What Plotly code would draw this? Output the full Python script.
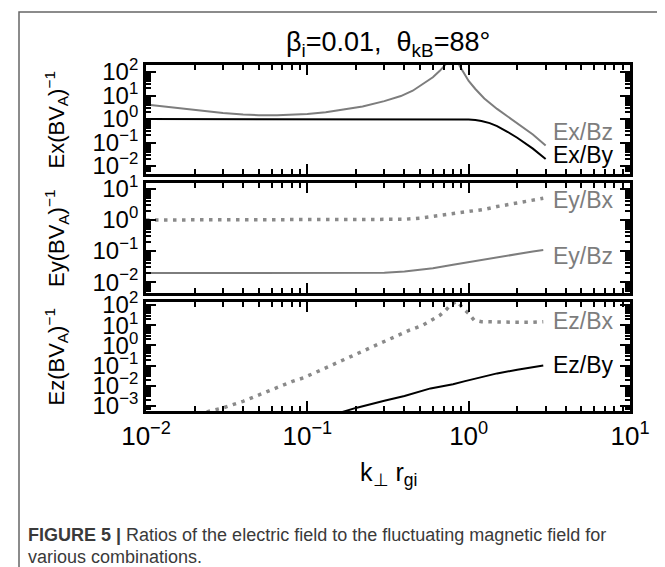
import plotly.graph_objects as go

# ---------------- data ----------------
k_ex_by = [0.01, 0.1, 0.5, 0.8, 0.9, 1.0, 1.1, 1.2, 1.35, 1.5, 1.75, 2.0, 2.5, 3.0]
ex_by = [1.0, 1.0, 1.0, 0.99, 0.98, 0.95, 0.9, 0.83, 0.67, 0.5, 0.28, 0.16, 0.055, 0.02]

k_ex_bz = [0.01, 0.013, 0.017, 0.022, 0.03, 0.04, 0.05, 0.065, 0.08, 0.1, 0.13, 0.17,
           0.22, 0.3, 0.38, 0.45, 0.52, 0.6, 0.66, 0.72, 0.76, 0.84, 0.88, 0.93, 1.0,
           1.1, 1.25, 1.5, 1.75, 2.0, 2.5, 3.0]
ex_bz = [4.2, 3.4, 2.7, 2.2, 1.8, 1.55, 1.45, 1.45, 1.52, 1.65, 1.95, 2.5,
         3.4, 5.8, 9.5, 16, 30, 60, 110, 210, 400, 400, 180, 90, 42,
         19, 7.5, 2.7, 1.3, 0.68, 0.22, 0.075]

k_ey = [0.01, 0.1, 0.25, 0.3, 0.4, 0.5, 0.6, 0.8, 1.0, 1.25, 1.5, 2.0, 2.5, 2.9]
ey_bx = [1.0, 1.0, 1.0, 1.01, 1.05, 1.15, 1.3, 1.55, 1.8, 2.2, 2.7, 3.5, 4.3, 5.0]
ey_bz = [0.0195, 0.0195, 0.0196, 0.02, 0.022, 0.025, 0.028, 0.036, 0.044, 0.054,
         0.064, 0.082, 0.097, 0.108]

k_ez_bx = [0.021, 0.03, 0.04, 0.05, 0.067, 0.08, 0.095, 0.13, 0.17, 0.24, 0.32, 0.43,
           0.52, 0.59, 0.66, 0.72, 0.78, 0.85, 0.92, 1.0, 1.08, 1.2, 1.5, 2.0, 2.5, 2.9]
ez_bx = [0.0004, 0.0008, 0.0017, 0.0035, 0.0093, 0.016, 0.025, 0.078, 0.2, 0.7, 2.0, 5.7,
         10, 17, 30, 55, 110, 150, 70, 38, 18, 15, 14, 14, 14, 15]

k_ez_by = [0.15, 0.2, 0.3, 0.4, 0.58, 0.8, 0.95, 1.2, 1.5, 2.0, 2.5, 2.9]
ez_by = [0.0004, 0.0008, 0.0018, 0.0031, 0.0074, 0.012, 0.017, 0.027, 0.041, 0.062, 0.085, 0.1]

x_tickvals = [0.01, 0.1, 1, 10]
x_ticktext = ["10<sup>−2</sup>", "10<sup>−1</sup>", "10<sup>0</sup>", "10<sup>1</sup>"]
y1_tickvals = [1e2, 1e1, 1e0, 1e-1, 1e-2]
y1_ticktext = ["10<sup>2</sup>", "10<sup>1</sup>", "10<sup>0</sup>", "10<sup>−1</sup>", "10<sup>−2</sup>"]
y2_tickvals = [1e1, 1e0, 1e-1, 1e-2]
y2_ticktext = ["10<sup>1</sup>", "10<sup>0</sup>", "10<sup>−1</sup>", "10<sup>−2</sup>"]
y3_tickvals = [1e2, 1e1, 1e0, 1e-1, 1e-2, 1e-3]
y3_ticktext = ["10<sup>2</sup>", "10<sup>1</sup>", "10<sup>0</sup>", "10<sup>−1</sup>",
               "10<sup>−2</sup>", "10<sup>−3</sup>"]

# ---------------- layout helpers ----------------
W, H = 665, 567
L, R, T, B = 138, 43, 57, 164
PW, PH = W - L - R, H - T - B


def px(xp):
    return (xp - L) / PW


def py(yp):
    return (H - B - yp) / PH


def minor_vals(e0, e1):
    return [m * 10 ** e for e in range(e0, e1) for m in range(2, 10)]


FONT = "Liberation Sans, Arial, sans-serif"
GRAY = "#7d7d7d"
DGRAY = "#8a8a8a"

fig = go.Figure()
line_black = dict(color="black", width=2)
line_gray = dict(color=GRAY, width=2)
line_dot = dict(color=DGRAY, width=3.5, dash="3.5px,5.5px")

fig.add_trace(go.Scatter(x=k_ex_bz, y=ex_bz, mode="lines", line=line_gray, xaxis="x", yaxis="y"))
fig.add_trace(go.Scatter(x=k_ex_by, y=ex_by, mode="lines", line=line_black, xaxis="x", yaxis="y"))
fig.add_trace(go.Scatter(x=k_ey, y=ey_bx, mode="lines", line=line_dot, xaxis="x2", yaxis="y2"))
fig.add_trace(go.Scatter(x=k_ey, y=ey_bz, mode="lines", line=line_gray, xaxis="x2", yaxis="y2"))
fig.add_trace(go.Scatter(x=k_ez_bx, y=ez_bx, mode="lines", line=line_dot, xaxis="x3", yaxis="y3"))
fig.add_trace(go.Scatter(x=k_ez_by, y=ez_by, mode="lines", line=line_black, xaxis="x3", yaxis="y3"))

axis_common = dict(
    type="log", showline=True, linewidth=2.8, linecolor="black", mirror="ticks",
    ticks="inside", ticklen=10, tickwidth=2, tickcolor="black", showgrid=False,
    zeroline=False, tickfont=dict(family=FONT, size=24, color="black"),
)


def xaxis(anchor, show):
    d = dict(axis_common)
    d.update(range=[-2, 1], anchor=anchor, tickmode="array", tickvals=x_tickvals,
             ticktext=x_ticktext, showticklabels=show,
             tickfont=dict(family=FONT, size=26, color="black"),
             minor=dict(tickmode="array", tickvals=minor_vals(-2, 1), ticks="inside",
                        ticklen=5, tickwidth=1.5, tickcolor="black"))
    return d


def yaxis(anchor, dom, rng, tv, tt):
    d = dict(axis_common)
    lo, hi = int(rng[0]) - 1, int(rng[1]) + 1
    d.update(range=rng, domain=dom, anchor=anchor, tickmode="array", tickvals=tv,
             ticktext=tt,
             minor=dict(tickmode="array", tickvals=minor_vals(lo, hi), ticks="inside",
                        ticklen=5, tickwidth=1.5, tickcolor="black"))
    return d


fig.update_layout(
    width=W, height=H, margin=dict(l=L, r=R, t=T, b=B),
    paper_bgcolor="white", plot_bgcolor="white", showlegend=False,
    xaxis=xaxis("y", False), xaxis2=xaxis("y2", False), xaxis3=xaxis("y3", True),
    yaxis=yaxis("x", [py(166), 1.0], [-2.34, 2.30], y1_tickvals, y1_ticktext),
    yaxis2=yaxis("x2", [py(285), py(175)], [-2.35, 1.19], y2_tickvals, y2_ticktext),
    yaxis3=yaxis("x3", [0.0, py(294)], [-3.25, 2.15], y3_tickvals, y3_ticktext),
)

ann = []


def label(text, x, y, color, size=23, xanchor="center", yanchor="middle", **kw):
    a = dict(text=text, x=x, y=y, xref="paper", yref="paper", showarrow=False,
             xanchor=xanchor, yanchor=yanchor,
             font=dict(family=FONT, size=size, color=color))
    a.update(kw)
    ann.append(a)


# curve labels
lx = px(543)
label("Ex/Bz", lx, py(124), GRAY, xanchor="left")
label("Ex/By", lx, py(147), "black", xanchor="left")
label("Ey/Bx", lx, py(192), GRAY, xanchor="left")
label("Ey/Bz", lx, py(248), GRAY, xanchor="left")
label("Ez/Bx", lx, py(313), GRAY, xanchor="left")
label("Ez/By", lx, py(357), "black", xanchor="left")

# title, axis titles
label("β<sub>i</sub>=0.01,  θ<sub>kB</sub>=88°", px(380), py(36), "black", size=27)
label("k<sub>⊥</sub> r<sub>gi</sub>", px(380), py(466), "black", size=25)
label("Ex(BV<sub>A</sub>)<sup>−1</sup>", px(48), py(111.5), "black", size=22, textangle=-90)
label("Ey(BV<sub>A</sub>)<sup>−1</sup>", px(48), py(230), "black", size=22, textangle=-90)
label("Ez(BV<sub>A</sub>)<sup>−1</sup>", px(48), py(348.5), "black", size=22, textangle=-90)

# caption
CAP = "Liberation Sans Narrow, Liberation Sans, Arial, sans-serif"
label("<b>FIGURE 5 |</b> Ratios of the electric field to the fluctuating magnetic field for",
      px(18), py(527), "#3a3a3a", size=18, xanchor="left")
label("various combinations.", px(18), py(549), "#3a3a3a", size=18, xanchor="left")
for a in ann[-2:]:
    a["font"]["family"] = CAP

fig.update_layout(annotations=ann)

# outer frame
fig.add_shape(type="rect", xref="paper", yref="paper", x0=px(11), x1=px(655),
              y0=py(600), y1=py(4), line=dict(color="#666666", width=1.5),
              fillcolor="rgba(0,0,0,0)", layer="below")

fig.write_html("out.html")
